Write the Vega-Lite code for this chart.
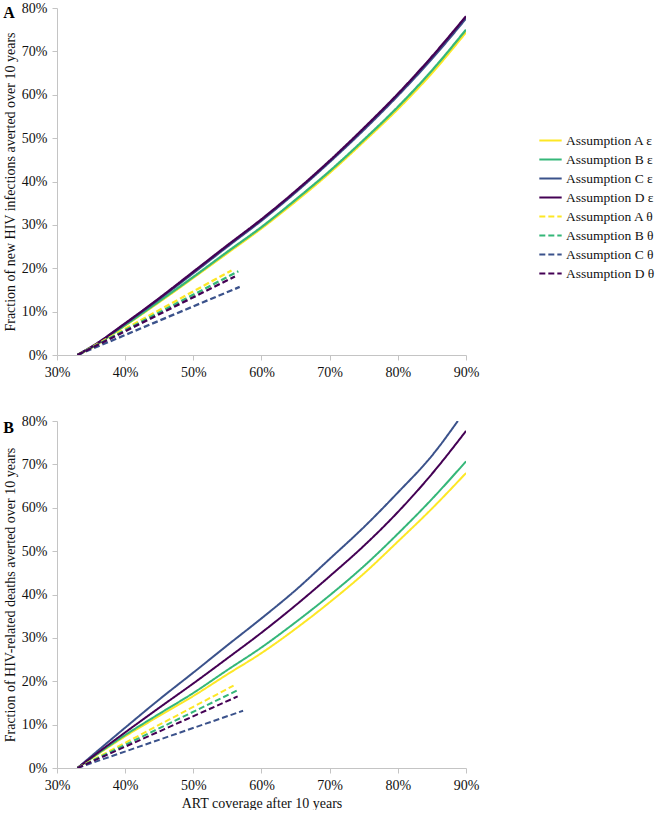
{
  "$schema": "https://vega.github.io/schema/vega-lite/v6.json",
  "background": "white",
  "padding": {"left": 3, "top": 1, "right": 0, "bottom": 0},
  "spacing": 35,
  "config": {
    "view": {"stroke": null},
    "font": "Liberation Serif",
    "axis": {
      "labelFont": "Liberation Serif",
      "labelFontSize": 14,
      "labelColor": "#111111",
      "labelFlush": false,
      "labelOverlap": false,
      "titleFont": "Liberation Serif",
      "titleFontSize": 14,
      "titleFontWeight": "normal",
      "titleColor": "#111111",
      "grid": false,
      "domainColor": "#c4c4c4",
      "tickColor": "#c4c4c4",
      "tickSize": 5,
      "labelPadding": 5
    },
    "legend": {
      "labelFont": "Liberation Serif",
      "labelFontSize": 13.5,
      "labelColor": "#111111",
      "labelLimit": 200
    }
  },
  "datasets": {
    "d": [
      {"p":"A","s":"Assumption A ε","x":0.33,"y":0},{"p":"A","s":"Assumption A ε","x":0.35,"y":0.016},{"p":"A","s":"Assumption A ε","x":0.40,"y":0.068},{"p":"A","s":"Assumption A ε","x":0.45,"y":0.122},{"p":"A","s":"Assumption A ε","x":0.50,"y":0.178},{"p":"A","s":"Assumption A ε","x":0.55,"y":0.235},{"p":"A","s":"Assumption A ε","x":0.60,"y":0.292},{"p":"A","s":"Assumption A ε","x":0.65,"y":0.354},{"p":"A","s":"Assumption A ε","x":0.70,"y":0.420},{"p":"A","s":"Assumption A ε","x":0.75,"y":0.492},{"p":"A","s":"Assumption A ε","x":0.80,"y":0.567},{"p":"A","s":"Assumption A ε","x":0.85,"y":0.650},{"p":"A","s":"Assumption A ε","x":0.90,"y":0.744},
      {"p":"A","s":"Assumption B ε","x":0.33,"y":0},{"p":"A","s":"Assumption B ε","x":0.35,"y":0.017},{"p":"A","s":"Assumption B ε","x":0.40,"y":0.069},{"p":"A","s":"Assumption B ε","x":0.45,"y":0.124},{"p":"A","s":"Assumption B ε","x":0.50,"y":0.180},{"p":"A","s":"Assumption B ε","x":0.55,"y":0.238},{"p":"A","s":"Assumption B ε","x":0.60,"y":0.295},{"p":"A","s":"Assumption B ε","x":0.65,"y":0.358},{"p":"A","s":"Assumption B ε","x":0.70,"y":0.424},{"p":"A","s":"Assumption B ε","x":0.75,"y":0.496},{"p":"A","s":"Assumption B ε","x":0.80,"y":0.572},{"p":"A","s":"Assumption B ε","x":0.85,"y":0.656},{"p":"A","s":"Assumption B ε","x":0.90,"y":0.750},
      {"p":"A","s":"Assumption C ε","x":0.33,"y":0},{"p":"A","s":"Assumption C ε","x":0.35,"y":0.018},{"p":"A","s":"Assumption C ε","x":0.40,"y":0.072},{"p":"A","s":"Assumption C ε","x":0.45,"y":0.129},{"p":"A","s":"Assumption C ε","x":0.50,"y":0.189},{"p":"A","s":"Assumption C ε","x":0.55,"y":0.250},{"p":"A","s":"Assumption C ε","x":0.60,"y":0.310},{"p":"A","s":"Assumption C ε","x":0.65,"y":0.375},{"p":"A","s":"Assumption C ε","x":0.70,"y":0.445},{"p":"A","s":"Assumption C ε","x":0.75,"y":0.519},{"p":"A","s":"Assumption C ε","x":0.80,"y":0.598},{"p":"A","s":"Assumption C ε","x":0.85,"y":0.683},{"p":"A","s":"Assumption C ε","x":0.90,"y":0.776},
      {"p":"A","s":"Assumption D ε","x":0.33,"y":0},{"p":"A","s":"Assumption D ε","x":0.35,"y":0.018},{"p":"A","s":"Assumption D ε","x":0.40,"y":0.073},{"p":"A","s":"Assumption D ε","x":0.45,"y":0.131},{"p":"A","s":"Assumption D ε","x":0.50,"y":0.192},{"p":"A","s":"Assumption D ε","x":0.55,"y":0.253},{"p":"A","s":"Assumption D ε","x":0.60,"y":0.313},{"p":"A","s":"Assumption D ε","x":0.65,"y":0.378},{"p":"A","s":"Assumption D ε","x":0.70,"y":0.448},{"p":"A","s":"Assumption D ε","x":0.75,"y":0.523},{"p":"A","s":"Assumption D ε","x":0.80,"y":0.602},{"p":"A","s":"Assumption D ε","x":0.85,"y":0.688},{"p":"A","s":"Assumption D ε","x":0.90,"y":0.781},
      {"p":"A","s":"Assumption A θ","x":0.33,"y":0},{"p":"A","s":"Assumption A θ","x":0.556,"y":0.195},
      {"p":"A","s":"Assumption B θ","x":0.33,"y":0},{"p":"A","s":"Assumption B θ","x":0.566,"y":0.193},
      {"p":"A","s":"Assumption C θ","x":0.33,"y":0},{"p":"A","s":"Assumption C θ","x":0.568,"y":0.157},
      {"p":"A","s":"Assumption D θ","x":0.33,"y":0},{"p":"A","s":"Assumption D θ","x":0.561,"y":0.181},
      {"p":"B","s":"Assumption A ε","x":0.33,"y":0},{"p":"B","s":"Assumption A ε","x":0.40,"y":0.073},{"p":"B","s":"Assumption A ε","x":0.45,"y":0.120},{"p":"B","s":"Assumption A ε","x":0.50,"y":0.166},{"p":"B","s":"Assumption A ε","x":0.55,"y":0.216},{"p":"B","s":"Assumption A ε","x":0.60,"y":0.265},{"p":"B","s":"Assumption A ε","x":0.65,"y":0.321},{"p":"B","s":"Assumption A ε","x":0.70,"y":0.382},{"p":"B","s":"Assumption A ε","x":0.75,"y":0.448},{"p":"B","s":"Assumption A ε","x":0.80,"y":0.522},{"p":"B","s":"Assumption A ε","x":0.85,"y":0.598},{"p":"B","s":"Assumption A ε","x":0.90,"y":0.680},
      {"p":"B","s":"Assumption B ε","x":0.33,"y":0},{"p":"B","s":"Assumption B ε","x":0.40,"y":0.076},{"p":"B","s":"Assumption B ε","x":0.45,"y":0.125},{"p":"B","s":"Assumption B ε","x":0.50,"y":0.173},{"p":"B","s":"Assumption B ε","x":0.55,"y":0.226},{"p":"B","s":"Assumption B ε","x":0.60,"y":0.278},{"p":"B","s":"Assumption B ε","x":0.65,"y":0.336},{"p":"B","s":"Assumption B ε","x":0.70,"y":0.398},{"p":"B","s":"Assumption B ε","x":0.75,"y":0.465},{"p":"B","s":"Assumption B ε","x":0.80,"y":0.540},{"p":"B","s":"Assumption B ε","x":0.85,"y":0.620},{"p":"B","s":"Assumption B ε","x":0.90,"y":0.707},
      {"p":"B","s":"Assumption C ε","x":0.33,"y":0},{"p":"B","s":"Assumption C ε","x":0.40,"y":0.093},{"p":"B","s":"Assumption C ε","x":0.45,"y":0.158},{"p":"B","s":"Assumption C ε","x":0.50,"y":0.220},{"p":"B","s":"Assumption C ε","x":0.55,"y":0.283},{"p":"B","s":"Assumption C ε","x":0.60,"y":0.345},{"p":"B","s":"Assumption C ε","x":0.65,"y":0.410},{"p":"B","s":"Assumption C ε","x":0.70,"y":0.482},{"p":"B","s":"Assumption C ε","x":0.75,"y":0.555},{"p":"B","s":"Assumption C ε","x":0.80,"y":0.635},{"p":"B","s":"Assumption C ε","x":0.85,"y":0.720},{"p":"B","s":"Assumption C ε","x":0.888,"y":0.800},
      {"p":"B","s":"Assumption D ε","x":0.33,"y":0},{"p":"B","s":"Assumption D ε","x":0.40,"y":0.082},{"p":"B","s":"Assumption D ε","x":0.45,"y":0.139},{"p":"B","s":"Assumption D ε","x":0.50,"y":0.195},{"p":"B","s":"Assumption D ε","x":0.55,"y":0.253},{"p":"B","s":"Assumption D ε","x":0.60,"y":0.312},{"p":"B","s":"Assumption D ε","x":0.65,"y":0.375},{"p":"B","s":"Assumption D ε","x":0.70,"y":0.442},{"p":"B","s":"Assumption D ε","x":0.75,"y":0.512},{"p":"B","s":"Assumption D ε","x":0.80,"y":0.590},{"p":"B","s":"Assumption D ε","x":0.85,"y":0.678},{"p":"B","s":"Assumption D ε","x":0.90,"y":0.777},
      {"p":"B","s":"Assumption A θ","x":0.33,"y":0},{"p":"B","s":"Assumption A θ","x":0.559,"y":0.190},
      {"p":"B","s":"Assumption B θ","x":0.33,"y":0},{"p":"B","s":"Assumption B θ","x":0.566,"y":0.180},
      {"p":"B","s":"Assumption C θ","x":0.33,"y":0},{"p":"B","s":"Assumption C θ","x":0.573,"y":0.132},
      {"p":"B","s":"Assumption D θ","x":0.33,"y":0},{"p":"B","s":"Assumption D θ","x":0.565,"y":0.165}
    ]
  },
  "vconcat": [
    {
      "width": 409,
      "height": 347,
      "data": {"name": "d"},
      "transform": [{"filter": "datum.p == 'A'"}],
      "title": {"text": "A", "anchor": "start", "frame": "bounds", "font": "Liberation Serif", "fontSize": 16, "fontWeight": "bold", "color": "#000000", "offset": -20},
      "mark": {"type": "line", "strokeWidth": 2.3, "clip": true, "interpolate": "monotone"},
      "encoding": {
        "x": {"field": "x", "type": "quantitative", "scale": {"domain": [0.3, 0.9], "nice": false}, "axis": {"values": [0.3,0.4,0.5,0.6,0.7,0.8,0.9], "format": ".0%", "title": null}},
        "y": {"field": "y", "type": "quantitative", "scale": {"domain": [0, 0.8], "nice": false}, "axis": {"values": [0,0.1,0.2,0.3,0.4,0.5,0.6,0.7,0.8], "format": ".0%", "title": "Fraction of new HIV infections averted over 10 years", "titlePadding": 4}},
        "color": {"field": "s", "type": "nominal", "sort": null,
          "scale": {"domain": ["Assumption A ε","Assumption B ε","Assumption C ε","Assumption D ε","Assumption A θ","Assumption B θ","Assumption C θ","Assumption D θ"],
                    "range": ["#fde725","#35b779","#3b528b","#440154","#fde725","#35b779","#3b528b","#440154"]},
          "legend": {"title": null, "orient": "none", "legendX": 481, "legendY": 120, "symbolType": "stroke", "symbolSize": 500, "symbolStrokeWidth": 2, "labelOffset": 3, "rowPadding": -1, "padding": 0}},
        "strokeDash": {"field": "s", "type": "nominal", "sort": null,
          "scale": {"domain": ["Assumption A ε","Assumption B ε","Assumption C ε","Assumption D ε","Assumption A θ","Assumption B θ","Assumption C θ","Assumption D θ"],
                    "range": [[1,0],[1,0],[1,0],[1,0],[6,3],[6,3],[6,3],[6,3]]},
          "legend": {"title": null, "orient": "none", "legendX": 481, "legendY": 120, "symbolType": "stroke", "symbolSize": 500, "symbolStrokeWidth": 2, "labelOffset": 3, "rowPadding": -1, "padding": 0}}
      }
    },
    {
      "width": 409,
      "height": 347,
      "data": {"name": "d"},
      "transform": [{"filter": "datum.p == 'B'"}],
      "title": {"text": "B", "anchor": "start", "frame": "bounds", "font": "Liberation Serif", "fontSize": 16, "fontWeight": "bold", "color": "#000000", "offset": -22},
      "mark": {"type": "line", "strokeWidth": 2, "clip": true, "interpolate": "monotone"},
      "encoding": {
        "x": {"field": "x", "type": "quantitative", "scale": {"domain": [0.3, 0.9], "nice": false}, "axis": {"values": [0.3,0.4,0.5,0.6,0.7,0.8,0.9], "format": ".0%", "title": "ART coverage after 10 years", "titlePadding": 4}},
        "y": {"field": "y", "type": "quantitative", "scale": {"domain": [0, 0.8], "nice": false}, "axis": {"values": [0,0.1,0.2,0.3,0.4,0.5,0.6,0.7,0.8], "format": ".0%", "title": "Fraction of HIV-related deaths averted over 10 years", "titlePadding": 4}},
        "color": {"field": "s", "type": "nominal", "sort": null},
        "strokeDash": {"field": "s", "type": "nominal", "sort": null}
      }
    }
  ]
}
